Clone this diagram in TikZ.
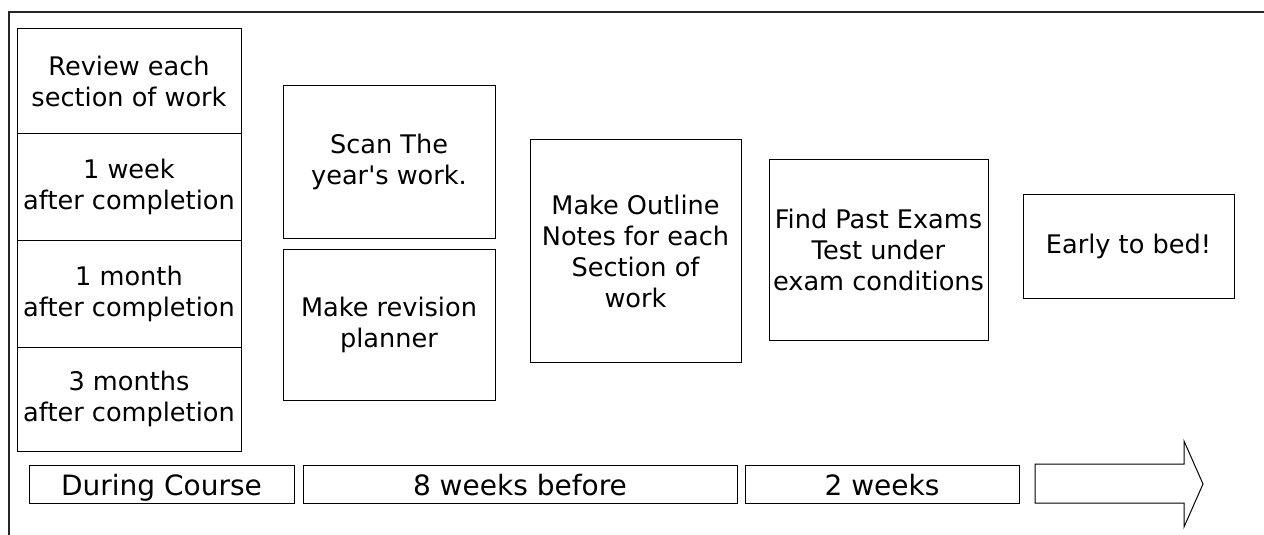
\documentclass[tikz,border=0pt]{standalone}
\usepackage{fontspec}
\setmainfont{DejaVu Sans}
\begin{document}
\begin{tikzpicture}[x=0.5pt,y=-0.5pt]

    \tikzset{
      box/.style={
        draw,
        line width=0.5pt,
        inner sep=0pt,
        align=center,
        font=\fontsize{12.8}{15.5}\selectfont,
      },
      bar/.style={
        draw,
        line width=0.5pt,
        inner sep=0pt,
        minimum height=19pt,
        text height=11pt,
        text depth=0pt,
        font=\fontsize{14}{16}\selectfont,
      },
    }
    \useasboundingbox (0,0) rectangle (1264,535);
    \draw[line width=0.6pt, color={black!85}] (9,535)--(9,12)--(1264,12);

	\node[box, minimum width=112pt, minimum height=52.5pt] (review) at (129,81.5) {Review each\\section of work};
	\node[box, minimum width=112pt, minimum height=53pt] (week) at (129,187) {1 week\\after completion};
	\node[box, minimum width=112pt, minimum height=53.5pt] (month) at (129,293.5) {1 month\\after completion};
	\node[box, minimum width=112pt, minimum height=52pt] (months) at (129,399) {3 months\\after completion};

	\node[box, minimum width=106pt, minimum height=76pt] (scan) at (389,162) {Scan The\\year\textquotesingle s work.};
	\node[box, minimum width=106pt, minimum height=75.5pt] (planner) at (389,324.5) {Make revision\\planner};
	\node[box, minimum width=105.5pt, minimum height=111pt] (outline) at (635.5,251) {Make Outline\\Notes for each\\Section of\\work};
	\node[box, minimum width=109.5pt, minimum height=90pt] (exams) at (878.5,250) {Find Past Exams\\Test under\\exam conditions};
	\node[box, minimum width=105.5pt, minimum height=52pt] (bed) at (1128.5,246) {Early to bed!};

	\node[bar, minimum width=132.5pt] (during) at (161.5,484) {During Course};
	\node[bar, minimum width=217pt] (eight) at (520,484) {8 weeks before};
	\node[bar, minimum width=137pt] (two) at (882,484) {2 weeks};
	\draw[line width=0.5pt] (1035,464)--(1184,464)--(1184,441)--(1203,484)--(1184,527)--(1184,503)--(1035,503)--cycle;

\end{tikzpicture}
\end{document}
